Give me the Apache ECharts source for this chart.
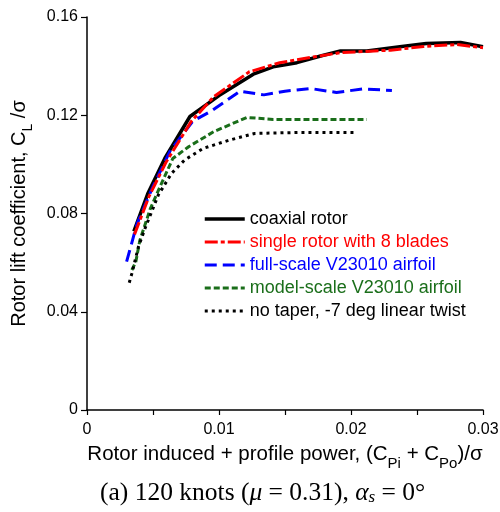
<!DOCTYPE html>
<html><head><meta charset="utf-8">
<script src="https://cdn.jsdelivr.net/npm/echarts@6/dist/echarts.min.js"></script>
<style>html,body{margin:0;padding:0;background:#fff}#c{width:500px;height:512px}</style>
</head><body><div id="c"></div>
<script>
// x: (C_Pi + C_Po)/sigma ; y: C_L/sigma
const coaxialX = [0.00355,0.0046,0.0059,0.0078,0.0100,0.0126,0.0141,0.0159,0.0177,0.0192,0.0212,0.0237,0.0257,0.0283,0.0300];
const coaxialY = [0.0727,0.0880,0.1025,0.1195,0.1280,0.1367,0.1397,0.1414,0.1441,0.1462,0.1462,0.1479,0.1492,0.1496,0.1479];
const singleX = [0.0036,0.0047,0.0060,0.0079,0.0096,0.0123,0.0146,0.0170,0.0192,0.0230,0.0255,0.0280,0.0300];
const singleY = [0.0715,0.0870,0.1010,0.1175,0.1275,0.1377,0.1414,0.1436,0.1455,0.1465,0.1480,0.1488,0.1475];
const fullX = [0.0030,0.0038,0.0050,0.0063,0.0080,0.0095,0.0116,0.0134,0.0150,0.0169,0.0189,0.0209,0.0231];
const fullY = [0.0604,0.0760,0.0910,0.1055,0.1175,0.1220,0.1298,0.1283,0.1298,0.1309,0.1293,0.1307,0.1301];
const modelX = [0.0034,0.0037,0.0040,0.0048,0.0055,0.0065,0.0077,0.0096,0.0121,0.0141,0.0212];
const modelY = [0.0570,0.0604,0.0690,0.0820,0.0905,0.1024,0.1072,0.1133,0.1191,0.1183,0.1183];
const taperX = [0.0032,0.0034,0.0039,0.0044,0.0049,0.0054,0.0064,0.0074,0.0088,0.0108,0.0127,0.0161,0.0202];
const taperY = [0.0518,0.0556,0.0665,0.0740,0.0807,0.0875,0.0963,0.1018,0.1065,0.1099,0.1126,0.1130,0.1130];
const seriesNames = ['coaxial rotor','single rotor with 8 blades','full-scale V23010 airfoil','model-scale V23010 airfoil','no taper, -7 deg linear twist'];
const xTickLabels = ['0','0.01','0.02','0.03'];
const yTickLabels = ['0','0.04','0.08','0.12','0.16'];

const pair = (xs, ys) => xs.map((x, i) => [x, ys[i]]);
const colors = ['#000000','#ff0000','#0000ff','#1a6e1a','#000000'];
const styles = [
  {width:3.5, type:'solid'},
  {width:3, type:[13,3,4,3]},
  {width:3, type:[12,6]},
  {width:3, type:[6,3]},
  {width:3, type:[3,4]}
];
const datas = [pair(coaxialX,coaxialY),pair(singleX,singleY),pair(fullX,fullY),pair(modelX,modelY),pair(taperX,taperY)];
const F = '"Liberation Sans", Arial, sans-serif';
const S = '"Liberation Serif", serif';
const chart = echarts.init(document.getElementById('c'), null, {renderer:'canvas'});
chart.setOption({
  animation:false,
  backgroundColor:'#fff',
  grid:{left:87,right:17,top:17,bottom:102,containLabel:false,outerBoundsMode:'none'},
  legend:{
    orient:'vertical', left:198, top:205, itemWidth:40, itemHeight:14, itemGap:5,
    itemStyle:{opacity:0},
    textStyle:{fontFamily:F,fontSize:18,lineHeight:18},
    data: seriesNames.map((n,i)=>({name:n, textStyle:{color:colors[i]},
      lineStyle:{width:styles[i].width, type:styles[i].type, color:colors[i]}}))
  },
  xAxis:{
    type:'value', min:0, max:0.03, interval:0.005,
    axisLine:{lineStyle:{color:'#000',width:1.5}},
    axisTick:{show:true,length:5,inside:false,lineStyle:{color:'#000',width:1.2}},
    splitLine:{show:false},
    axisLabel:{color:'#000',fontFamily:F,fontSize:16,margin:12,
      formatter:v=>{const k=Math.round(v*100); return Math.abs(v*100-k)<1e-6 ? xTickLabels[k] : '';}},
    name:'{m|Rotor induced + profile power, (C}{s|Pi}{m| + C}{s|Po}{m|)/σ}',
    nameLocation:'middle', nameGap:28,
    nameTextStyle:{color:'#000',fontFamily:F,fontSize:20.5,
      rich:{m:{fontFamily:F,fontSize:20.5,color:'#000'},s:{fontFamily:F,fontSize:15,color:'#000',padding:[18,0,0,0]}}}
  },
  yAxis:{
    type:'value', min:0, max:0.16, interval:0.04,
    axisLine:{show:true,lineStyle:{color:'#000',width:1.5}},
    axisTick:{show:true,length:6,inside:false,lineStyle:{color:'#000',width:1.2}},
    splitLine:{show:false},
    axisLabel:{color:'#000',fontFamily:F,fontSize:16,margin:9,
      formatter:v=>yTickLabels[Math.round(v/0.04)]},
    name:'{m|Rotor lift coefficient, C}{s|L}{m| /σ}',
    nameLocation:'middle', nameGap:52, nameRotate:90,
    nameTextStyle:{color:'#000',fontFamily:F,fontSize:20,
      rich:{m:{fontFamily:F,fontSize:20,color:'#000'},s:{fontFamily:F,fontSize:14,color:'#000',padding:[18,0,0,0]}}}
  },
  series: datas.map((d,i)=>({
    name:seriesNames[i], type:'line', data:d, symbol:'none', showSymbol:false, smooth:false,
    lineStyle:{color:colors[i], width:styles[i].width, type:styles[i].type},
    itemStyle:{color:colors[i]}, z: [2,4,3,3,3][i]
  })),
  graphic:[{
    type:'text', left:100, top:480,
    style:{
      text:'{n|(a) 120 knots (}{i|μ}{n| = 0.31), }{i|α}{si|s}{n| = 0°}',
      fill:'#000',
      rich:{
        n:{fontFamily:S,fontSize:25.5,fill:'#000'},
        i:{fontFamily:S,fontSize:25.5,fontStyle:'italic',fill:'#000'},
        si:{fontFamily:S,fontSize:17,fontStyle:'italic',fill:'#000',padding:[10,0,0,0]}
      }
    }
  }]
});
</script></body></html>
